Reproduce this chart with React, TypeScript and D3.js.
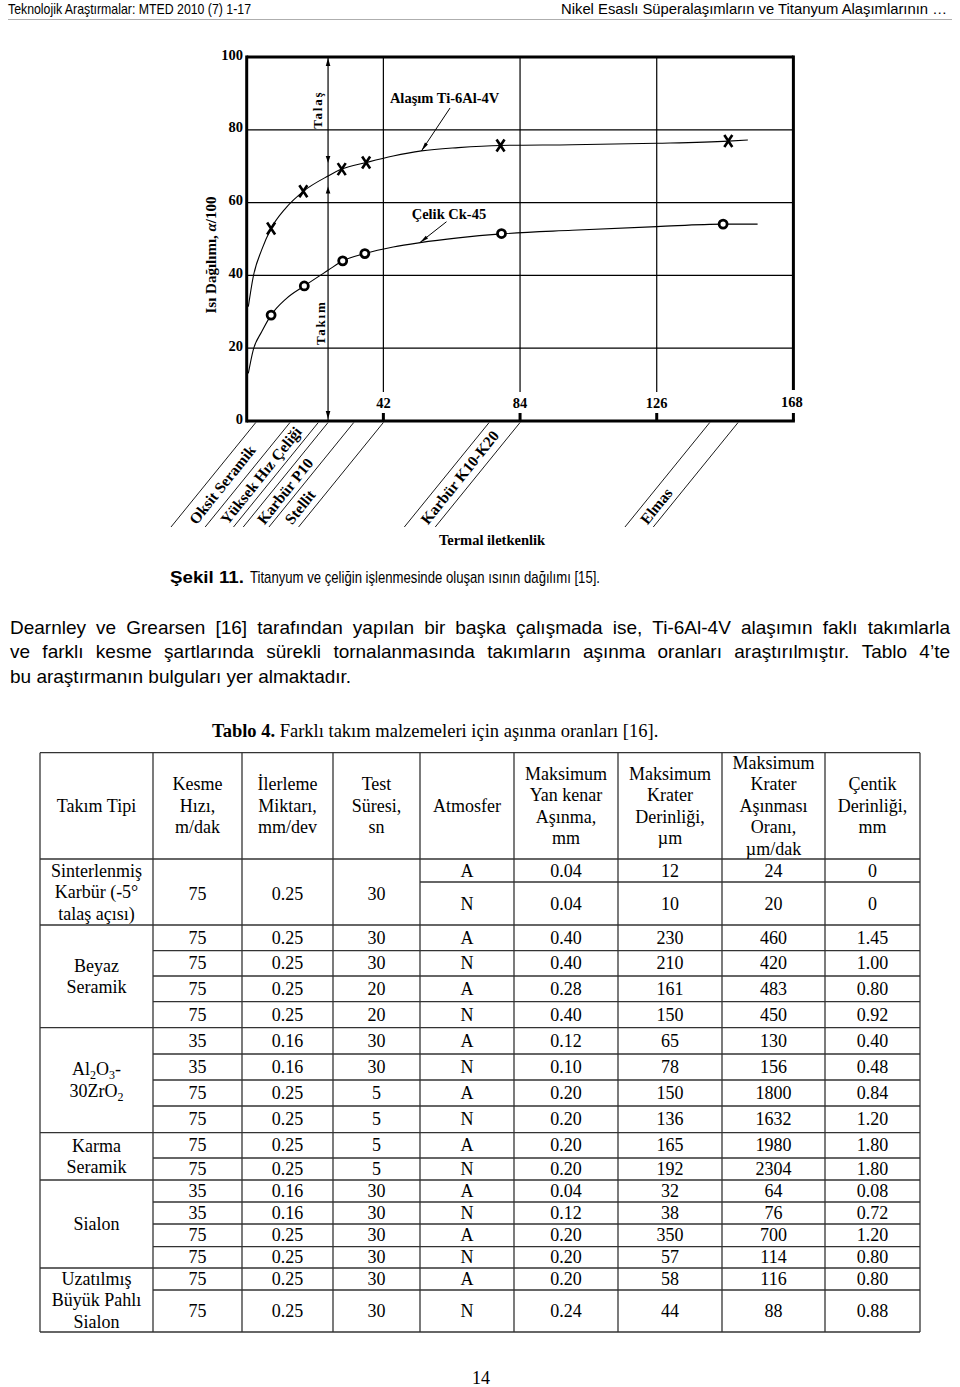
import React from 'react';
import * as d3 from 'd3';

// ---------- chart data ----------
const yTicks = [0, 20, 40, 60, 80, 100];
const xTicks = [42, 84, 126, 168];
const xGrid = [42, 84, 126];
const yGrid = [20, 40, 60, 80];

const tiX = [7.5, 17.4, 29.2, 36.7, 78.0, 148];
const tiY = [52.9, 63.1, 69.2, 71.0, 75.7, 76.9];
const steelX = [7.5, 17.7, 29.5, 36.3, 78.3, 146.4];
const steelY = [29.1, 37.1, 44.0, 46.0, 51.5, 54.1];

const tiCurveX = [0.5, 2, 4.6, 7.5, 12, 17.4, 25, 29.2, 36.7, 45, 53.7, 65, 78, 100, 126, 148, 154];
const tiCurveY = [31.4, 39.6, 47, 52.9, 58.5, 63.1, 67.3, 69.2, 71.0, 72.8, 74.2, 75.1, 75.7, 75.9, 76.3, 76.9, 77.2];
const steelCurveX = [0.5, 2, 4.6, 7.5, 12, 17.7, 25, 29.5, 36.3, 45, 53.3, 65, 78.3, 100, 126, 146.4, 157];
const steelCurveY = [13.1, 19.5, 24.5, 29.1, 33.5, 37.1, 41.4, 44.0, 46.0, 47.8, 49.0, 50.3, 51.4, 52.4, 53.4, 54.1, 54.1];

const toolNames = ['Oksit Seramik', 'Yüksek Hız Çeliği', 'Karbür P10', 'Stellit', 'Karbür K10-K20', 'Elmas'];
const toolBandStart = [2.8, 13.3, 25, 32.9, 74.5, 142.3];
const toolBandEnd = [13.3, 22, 32.9, 42, 84, 151];
const toolLines = [2.8, 13.3, 22, 25, 32.9, 42, 74.5, 84, 142.3, 151];

const toolMarkX = 25;

// ---------- table data ----------
const headers = [
  ['Takım Tipi'],
  ['Kesme', 'Hızı,', 'm/dak'],
  ['İlerleme', 'Miktarı,', 'mm/dev'],
  ['Test', 'Süresi,', 'sn'],
  ['Atmosfer'],
  ['Maksimum', 'Yan kenar', 'Aşınma,', 'mm'],
  ['Maksimum', 'Krater', 'Derinliği,', 'µm'],
  ['Maksimum', 'Krater', 'Aşınması', 'Oranı,', 'µm/dak'],
  ['Çentik', 'Derinliği,', 'mm'],
];
const groupLabels = [
  ['Sinterlenmiş', 'Karbür (-5°', 'talaş açısı)'],
  ['Beyaz', 'Seramik'],
  ['Al2O3-', '30ZrO2'],
  ['Karma', 'Seramik'],
  ['Sialon'],
  ['Uzatılmış', 'Büyük Pahlı', 'Sialon'],
];
const groupRowCounts = [2, 4, 4, 2, 4, 2];
const speed = ['75', '75', '75', '75', '75', '75', '35', '35', '75', '75', '75', '75', '35', '35', '75', '75', '75', '75'];
const feed = ['0.25', '0.25', '0.25', '0.25', '0.25', '0.25', '0.16', '0.16', '0.25', '0.25', '0.25', '0.25', '0.16', '0.16', '0.25', '0.25', '0.25', '0.25'];
const testTime = ['30', '30', '30', '30', '20', '20', '30', '30', '5', '5', '5', '5', '30', '30', '30', '30', '30', '30'];
const atmosphere = ['A', 'N', 'A', 'N', 'A', 'N', 'A', 'N', 'A', 'N', 'A', 'N', 'A', 'N', 'A', 'N', 'A', 'N'];
const flankWear = ['0.04', '0.04', '0.40', '0.40', '0.28', '0.40', '0.12', '0.10', '0.20', '0.20', '0.20', '0.20', '0.04', '0.12', '0.20', '0.20', '0.20', '0.24'];
const craterDepth = ['12', '10', '230', '210', '161', '150', '65', '78', '150', '136', '165', '192', '32', '38', '350', '57', '58', '44'];
const craterRate = ['24', '20', '460', '420', '483', '450', '130', '156', '1800', '1632', '1980', '2304', '64', '76', '700', '114', '116', '88'];
const notchDepth = ['0', '0', '1.45', '1.00', '0.80', '0.92', '0.40', '0.48', '0.84', '1.20', '1.80', '1.80', '0.08', '0.72', '1.20', '0.80', '0.80', '0.88'];

const paragraphLines = [
  'Dearnley ve Grearsen [16] tarafından yapılan bir başka çalışmada ise, Ti-6Al-4V alaşımın faklı takımlarla',
  've farklı kesme şartlarında sürekli tornalanmasında takımların aşınma oranları araştırılmıştır. Tablo 4’te',
  'bu araştırmanın bulguları yer almaktadır.',
];

// ---------- layout ----------
const colX = [40, 153, 242, 333, 420, 514, 618, 722, 825, 920];
const tableTop = 752.7;
const headBottom = 859;
const rowEdges = [859, 882, 925, 950.7, 976, 1001.7, 1027.7, 1054, 1080, 1106, 1132.7, 1158, 1180, 1202, 1224, 1246.7, 1268, 1290, 1332];

const serif = '"Liberation Serif", "Times New Roman", serif';
const sans = '"Liberation Sans", Arial, sans-serif';
const narrow = '"Liberation Sans Narrow", "Liberation Sans", Arial, sans-serif';

const x = d3.scaleLinear().domain([0, 168]).range([246.7, 793.4]);
const y = d3.scaleLinear().domain([0, 100]).range([421, 57]);

let ctx: CanvasRenderingContext2D | null = null;
function measure(t: string, font: string): number {
  if (!ctx && typeof document !== 'undefined') ctx = document.createElement('canvas').getContext('2d');
  if (!ctx) return t.length * 9;
  ctx.font = font;
  return ctx.measureText(t).width;
}

function Justified({ text, x0, x1, yy, size }: { text: string; x0: number; x1: number; yy: number; size: number }) {
  const font = `${size}px "Liberation Sans", Arial, sans-serif`;
  const words = text.split(' ');
  const widths = words.map(w => measure(w, font));
  const total = widths.reduce((a, b) => a + b, 0);
  const gap = (x1 - x0 - total) / (words.length - 1);
  let cx = x0;
  const parts: React.ReactNode[] = [];
  words.forEach((w, i) => {
    parts.push(<tspan key={i} x={cx}>{w}</tspan>);
    cx += widths[i] + gap;
  });
  return <text y={yy} fontFamily={sans} fontSize={size}>{parts}</text>;
}

function ArrowHead({ tx, ty, fx, fy, len = 8, half = 2.3 }: { tx: number; ty: number; fx: number; fy: number; len?: number; half?: number }) {
  const dx = tx - fx, dy = ty - fy;
  const L = Math.hypot(dx, dy);
  const ux = dx / L, uy = dy / L;
  const bx = tx - ux * len, by = ty - uy * len;
  const px = -uy * half, py = ux * half;
  return <path d={`M${tx},${ty}L${bx + px},${by + py}L${bx - px},${by - py}Z`} fill="#000" />;
}

function Chart() {
  const line = d3.line<[number, number]>().x(d => x(d[0])).y(d => y(d[1])).curve(d3.curveMonotoneX);
  const tiPath = line(tiCurveX.map((v, i) => [v, tiCurveY[i]]) as [number, number][]) || '';
  const stPath = line(steelCurveX.map((v, i) => [v, steelCurveY[i]]) as [number, number][]) || '';
  const slope = 0.8; // dx per dy of the hatch lines
  const yBase = y(0);
  const yEnd = 527;
  const mx = x(toolMarkX);
  const gapTop = 392;
  const gapBottom = 413;
  return (
    <g fontFamily={serif} fontWeight="bold">
      {/* grid */}
      {yGrid.map(v => (
        <line key={'hy' + v} x1={x(0)} x2={x(168)} y1={y(v)} y2={y(v)} stroke="#000" strokeWidth={1.2} />
      ))}
      {xGrid.map(v => (
        <g key={'vx' + v}>
          <line x1={x(v)} x2={x(v)} y1={y(100)} y2={gapTop} stroke="#000" strokeWidth={1.2} />
          <line x1={x(v)} x2={x(v)} y1={gapBottom} y2={yBase} stroke="#000" strokeWidth={3} />
        </g>
      ))}
      {/* frame */}
      <line x1={x(0)} x2={x(168)} y1={y(100)} y2={y(100)} stroke="#000" strokeWidth={3} />
      <line x1={x(0)} x2={x(168) + 1.5} y1={y(0)} y2={y(0)} stroke="#000" strokeWidth={3} />
      <line x1={x(0)} x2={x(0)} y1={y(100) - 1.5} y2={y(0) + 1.5} stroke="#000" strokeWidth={3} />
      <line x1={x(168)} x2={x(168)} y1={y(100) - 1.5} y2={gapTop - 2} stroke="#000" strokeWidth={3} />
      <line x1={x(168)} x2={x(168)} y1={gapBottom} y2={y(0)} stroke="#000" strokeWidth={3} />
      {/* y tick labels */}
      {yTicks.map(v => (
        <text key={'yl' + v} x={243} y={y(v) + 2.5} textAnchor="end" fontSize={14.5}>{v}</text>
      ))}
      {/* x tick labels */}
      {xTicks.map(v => (
        <text key={'xl' + v} x={x(v) - (v === 168 ? 1.5 : 0)} y={v === 168 ? 406.5 : 408} textAnchor="middle" fontSize={14.5}>{v}</text>
      ))}
      {/* y axis title */}
      <text transform={`translate(216,255) rotate(-90)`} textAnchor="middle" fontSize={15}>
        Isı Dağılımı, <tspan fontStyle="italic">α</tspan>/100
      </text>
      {/* Talaş / Takım marker */}
      <line x1={mx} x2={mx} y1={y(100)} y2={y(0)} stroke="#000" strokeWidth={1.2} />
      <ArrowHead tx={mx} ty={y(100) + 1} fx={mx} fy={y(100) + 20} />
      <ArrowHead tx={mx} ty={y(70.9)} fx={mx} fy={y(80)} len={7} />
      <ArrowHead tx={mx} ty={y(64.4)} fx={mx} fy={y(55)} len={7} />
      <ArrowHead tx={mx} ty={y(0) - 2} fx={mx} fy={y(10)} />
      <text transform={`translate(${mx - 6},${y(85.5)}) rotate(-90)`} textAnchor="middle" fontSize={13} letterSpacing={1.8}>Talaş</text>
      <text transform={`translate(${mx - 3},${y(27)}) rotate(-90)`} textAnchor="middle" fontSize={13} letterSpacing={1.8}>Takım</text>
      {/* curves */}
      <path d={tiPath} fill="none" stroke="#000" strokeWidth={1.1} />
      <path d={stPath} fill="none" stroke="#000" strokeWidth={1.1} />
      {tiX.map((v, i) => (
        <path key={'tx' + i} d={`M${x(v) - 4},${y(tiY[i]) - 6}L${x(v) + 4},${y(tiY[i]) + 6}M${x(v) + 4},${y(tiY[i]) - 6}L${x(v) - 4},${y(tiY[i]) + 6}`} stroke="#000" strokeWidth={2.6} fill="none" />
      ))}
      {steelX.map((v, i) => (
        <circle key={'sc' + i} cx={x(v)} cy={y(steelY[i])} r={4} fill="#fff" stroke="#000" strokeWidth={2.8} />
      ))}
      {/* labels */}
      <text x={x(44)} y={y(87.4)} fontSize={14.5}>Alaşım Ti-6Al-4V</text>
      <line x1={x(62.5)} y1={y(86)} x2={x(53.7)} y2={y(74.2)} stroke="#000" strokeWidth={1} />
      <ArrowHead tx={x(53.7)} ty={y(74.2)} fx={x(62.5)} fy={y(86)} len={9} half={1.8} />
      <text x={x(50.7)} y={y(55.5)} fontSize={14.5}>Çelik Ck-45</text>
      <line x1={x(61.4)} y1={y(54.75)} x2={x(53.2)} y2={y(49.0)} stroke="#000" strokeWidth={1} />
      <ArrowHead tx={x(53.2)} ty={y(49.0)} fx={x(61.4)} fy={y(54.75)} len={9} half={1.8} />
      {/* thermal conductivity hatch */}
      {toolLines.map((v, i) => (
        <line key={'tl' + i} x1={x(v)} y1={yBase + 1.5} x2={x(v) - slope * (yEnd - yBase)} y2={yEnd} stroke="#000" strokeWidth={0.9} />
      ))}
      {toolNames.map((n, i) => {
        const yy = 522;
        const cx = (x(toolBandStart[i]) + x(toolBandEnd[i])) / 2 - slope * (yy - yBase);
        return (
          <text key={'tn' + i} transform={`translate(${cx},${yy}) rotate(-51.3)`} fontSize={15.5} dominantBaseline="central">{n}</text>
        );
      })}
      <text x={492} y={545} textAnchor="middle" fontSize={14.5}>Termal iletkenlik</text>
    </g>
  );
}

function Table() {
  const cells: React.ReactNode[] = [];
  const lineStroke = '#333';
  headers.forEach((h, c) => {
    const cx = (colX[c] + colX[c + 1]) / 2;
    const mid = (tableTop + headBottom) / 2;
    const lh = 21.5;
    h.forEach((t, k) => {
      const cy = mid + (k - (h.length - 1) / 2) * lh;
      cells.push(<text key={`h${c}_${k}`} x={cx} y={cy + 6} textAnchor="middle">{t}</text>);
    });
  });
  const rows: React.ReactNode[] = [];
  let r = 0;
  groupRowCounts.forEach((cnt, g) => {
    const gTop = rowEdges[r];
    const gBot = rowEdges[r + cnt];
    const gMid = (gTop + gBot) / 2;
    const lab = groupLabels[g];
    lab.forEach((t, k) => {
      const cy = gMid + (k - (lab.length - 1) / 2) * 21.5;
      let content: React.ReactNode = t;
      if (t === 'Al2O3-') content = <>Al<tspan fontSize={12} dy={4}>2</tspan><tspan dy={-4}>O</tspan><tspan fontSize={12} dy={4}>3</tspan><tspan dy={-4}>-</tspan></>;
      if (t === '30ZrO2') content = <>30ZrO<tspan fontSize={12} dy={4}>2</tspan></>;
      rows.push(<text key={`g${g}_${k}`} x={(colX[0] + colX[1]) / 2} y={cy + 6} textAnchor="middle">{content}</text>);
    });
    rows.push(<line key={`gl${g}`} x1={colX[0]} x2={colX[9]} y1={gBot} y2={gBot} stroke={lineStroke} strokeWidth={1.3} />);
    for (let i = 0; i < cnt; i++) {
      const ri = r + i;
      const top = rowEdges[ri], bot = rowEdges[ri + 1];
      const cy = (top + bot) / 2;
      const merged = g === 0;
      const vals = [speed[ri], feed[ri], testTime[ri], atmosphere[ri], flankWear[ri], craterDepth[ri], craterRate[ri], notchDepth[ri]];
      vals.forEach((v, c) => {
        const col = c + 1;
        if (merged && col <= 3) {
          if (i === 0) rows.push(<text key={`v${ri}_${c}`} x={(colX[col] + colX[col + 1]) / 2} y={gMid + 8} textAnchor="middle">{v}</text>);
          return;
        }
        rows.push(<text key={`v${ri}_${c}`} x={(colX[col] + colX[col + 1]) / 2} y={cy + 6} textAnchor="middle">{v}</text>);
      });
      if (i < cnt - 1) {
        rows.push(<line key={`rl${ri}`} x1={merged ? colX[4] : colX[1]} x2={colX[9]} y1={bot} y2={bot} stroke={lineStroke} strokeWidth={1.3} />);
      }
    }
    r += cnt;
  });
  const tableBottom = rowEdges[rowEdges.length - 1];
  return (
    <g fontFamily={serif} fontSize={18} fill="#000">
      <line x1={colX[0]} x2={colX[9]} y1={tableTop} y2={tableTop} stroke={lineStroke} strokeWidth={1.3} />
      <line x1={colX[0]} x2={colX[9]} y1={headBottom} y2={headBottom} stroke={lineStroke} strokeWidth={1.3} />
      {colX.map((cx, i) => (
        <line key={'cv' + i} x1={cx} x2={cx} y1={tableTop} y2={tableBottom} stroke={lineStroke} strokeWidth={1.3} />
      ))}
      {cells}
      {rows}
    </g>
  );
}

export default function App() {
  return (
    <svg width={960} height={1387} viewBox="0 0 960 1387" style={{ position: 'absolute', left: 0, top: 0, display: 'block', background: '#fff' }}>
      <rect x={0} y={0} width={960} height={1387} fill="#fff" />
      {/* running header */}
      <text x={8} y={14} fontFamily={narrow} fontSize={15} textLength={243} lengthAdjust="spacingAndGlyphs">Teknolojik Araştırmalar: MTED 2010 (7) 1-17</text>
      <text x={561} y={14} fontFamily={narrow} fontSize={15} textLength={386} lengthAdjust="spacingAndGlyphs">Nikel Esaslı Süperalaşımların ve Titanyum Alaşımlarının …</text>
      <line x1={8} x2={952} y1={19.5} y2={19.5} stroke="#999" strokeWidth={0.8} />
      <Chart />
      {/* caption */}
      <text x={170} y={583} fontFamily={sans} fontSize={17} fontWeight="bold" textLength={74} lengthAdjust="spacingAndGlyphs">Şekil 11.</text>
      <text x={250} y={583} fontFamily={sans} fontSize={17} textLength={350} lengthAdjust="spacingAndGlyphs">Titanyum ve çeliğin işlenmesinde oluşan ısının dağılımı [15].</text>
      {/* paragraph */}
      <Justified text={paragraphLines[0]} x0={10} x1={950} yy={634} size={19} />
      <Justified text={paragraphLines[1]} x0={10} x1={950} yy={658} size={19} />
      <text x={10} y={683} fontFamily={sans} fontSize={19}>{paragraphLines[2]}</text>
      <text x={212} y={737} fontFamily={serif} fontSize={18.5}>
        <tspan fontWeight="bold">Tablo 4.</tspan> Farklı takım malzemeleri için aşınma oranları [16].
      </text>
      <Table />
      <text x={481} y={1384} textAnchor="middle" fontFamily={serif} fontSize={18}>14</text>
    </svg>
  );
}
